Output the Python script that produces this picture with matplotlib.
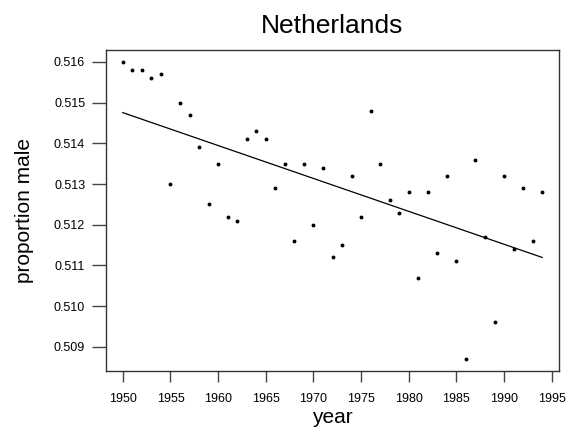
import matplotlib
matplotlib.use("Agg")
import matplotlib.pyplot as plt
import numpy as np

years = list(range(1950, 1995))
prop_male = [0.5160, 0.5158, 0.5158, 0.5156, 0.5157, 0.5130, 0.5150, 0.5147, 0.5139, 0.5125,
             0.5135, 0.5122, 0.5121, 0.5141, 0.5143, 0.5141, 0.5129, 0.5135, 0.5116, 0.5135,
             0.5120, 0.5134, 0.5112, 0.5115, 0.5132, 0.5122, 0.5148, 0.5135, 0.5126, 0.5123,
             0.5128, 0.5107, 0.5128, 0.5113, 0.5132, 0.5111, 0.5087, 0.5136, 0.5117, 0.5096,
             0.5132, 0.5114, 0.5129, 0.5116, 0.5128]
xticks = [1950, 1955, 1960, 1965, 1970, 1975, 1980, 1985, 1990, 1995]
yticks = [0.509, 0.510, 0.511, 0.512, 0.513, 0.514, 0.515, 0.516]

plt.rcParams['font.family'] = ['Liberation Sans', 'DejaVu Sans']

fig = plt.figure(figsize=(5.66, 4.29), dpi=100)
ax = fig.add_axes([106/566, 1-371/429, (559-106)/566, (371-50)/429])

x = np.array(years)
y = np.array(prop_male)
ax.plot(x, y, 'o', color='black', markersize=2.8, markeredgewidth=0)
b, a = np.polyfit(x, y, 1)
xl = np.array([x.min(), x.max()])
ax.plot(xl, a + b*xl, color='black', linewidth=0.9)

xr = x.max() - x.min()
yr = y.max() - y.min()
ax.set_xlim(x.min() - 0.04*xr, x.max() + 0.04*xr)
ax.set_ylim(y.min() - 0.04*yr, y.max() + 0.04*yr)

ax.set_xticks(xticks)
ax.set_yticks(yticks)
ax.set_xticklabels([str(t) for t in xticks])
ax.set_yticklabels([f"{t:.3f}" for t in yticks])
ax.tick_params(axis='x', length=8, width=1, labelsize=9, pad=8, color='#444444')
ax.tick_params(axis='y', length=10, width=1, labelsize=9, pad=5, color='#444444')
for s in ax.spines.values():
    s.set_color('#333333')
    s.set_linewidth(1)

ax.set_title("Netherlands", fontsize=19, pad=12)
ax.set_xlabel("year", fontsize=15, labelpad=2)
ax.set_ylabel("proportion male", fontsize=15, labelpad=14)

fig.savefig("out.png", dpi=100)
